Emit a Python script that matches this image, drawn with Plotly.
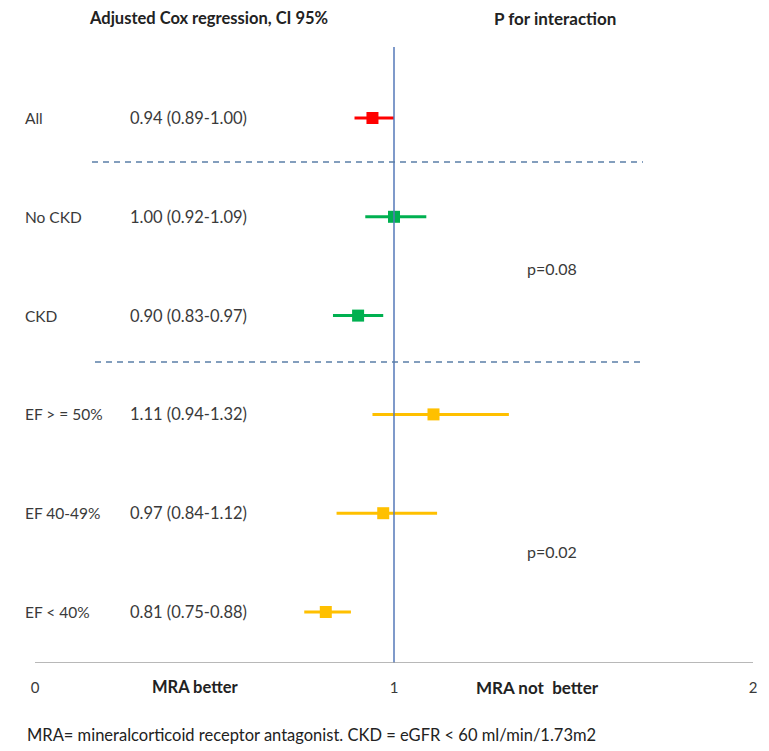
import plotly.graph_objects as go

# ---- data ----
groups = ["All", "No CKD", "CKD", "EF > = 50%", "EF 40-49%", "EF < 40%"]
hr = [0.94, 1.00, 0.90, 1.11, 0.97, 0.81]
ci_low = [0.89, 0.92, 0.83, 0.94, 0.84, 0.75]
ci_high = [1.00, 1.09, 0.97, 1.32, 1.12, 0.88]
colors = ["#ff0000", "#00b050", "#00b050", "#ffc000", "#ffc000", "#ffc000"]
p_labels = ["p=0.08", "p=0.02"]
p_rows = [1.52, 4.39]
x_ticks = [0, 1, 2]
x_tick_text = ["0", "1", "2"]

rows = list(range(len(groups)))
# page has an 8px body margin; figure sized to fit inside the window
W, H = 761, 743
plot_bottom = 655          # figure px of the x axis line
px_per_unit = 359
x0_px = 27
row0_px, row_step = 110, 98.8

TXT = "#3a3a3a"
DARK = "#222222"
FONT = "Lato"

fig = go.Figure()

for i in rows:
    fig.add_trace(go.Scatter(
        x=[hr[i]], y=[i], mode="markers",
        marker=dict(symbol="square", size=12, color=colors[i]),
        error_x=dict(type="data", symmetric=False,
                     array=[ci_high[i] - hr[i]], arrayminus=[hr[i] - ci_low[i]],
                     color=colors[i], thickness=3, width=0),
        showlegend=False, hoverinfo="skip",
    ))

def row_of(px):
    return (px - row0_px) / row_step

ann = []
for i in rows:
    ann.append(dict(x=15 / W, xref="paper", y=i, yref="y", text=groups[i],
                    showarrow=False, xanchor="left", yanchor="middle",
                    font=dict(size=15.5, color=TXT, family=FONT)))
    ann.append(dict(x=120 / W, xref="paper", y=i, yref="y",
                    text=f"{hr[i]:.2f} ({ci_low[i]:.2f}-{ci_high[i]:.2f})",
                    showarrow=False, xanchor="left", yanchor="middle",
                    font=dict(size=16.5, color=TXT, family=FONT)))

for t, r in zip(p_labels, p_rows):
    ann.append(dict(x=544 / W, xref="paper", y=r, yref="y", text=t, showarrow=False,
                    xanchor="center", yanchor="middle",
                    font=dict(size=16, color=TXT, family=FONT)))

# headers
ann.append(dict(x=200.5 / W, xref="paper", y=row_of(10), yref="y",
                text="<b>Adjusted Cox regression, CI 95%</b>", showarrow=False,
                xanchor="center", yanchor="middle",
                font=dict(size=16.5, color=DARK, family=FONT)))
ann.append(dict(x=547 / W, xref="paper", y=row_of(10), yref="y",
                text="<b>P for interaction</b>", showarrow=False,
                xanchor="center", yanchor="middle",
                font=dict(size=17, color=DARK, family=FONT)))

# direction labels
ann.append(dict(x=0.448, xref="x", y=-24 / plot_bottom, yref="paper",
                text="<b>MRA better</b>", showarrow=False, xanchor="center",
                yanchor="middle", font=dict(size=16.5, color=DARK, family=FONT)))
ann.append(dict(x=1.401, xref="x", y=-24 / plot_bottom, yref="paper",
                text="<b>MRA not  better</b>", showarrow=False, xanchor="center",
                yanchor="middle", font=dict(size=17, color=DARK, family=FONT)))

# footnote
ann.append(dict(x=17 / W, xref="paper", y=-72 / plot_bottom, yref="paper",
                text="MRA= mineralcorticoid receptor antagonist. CKD = eGFR < 60 ml/min/1.73m2",
                showarrow=False, xanchor="left", yanchor="middle",
                font=dict(size=16.5, color=DARK, family=FONT)))

y_bottom = row_of(plot_bottom)
y_top = row_of(0)

shapes = [
    # reference line at 1
    dict(type="line", xref="x", yref="y", x0=1, x1=1, y0=row_of(39), y1=y_bottom,
         line=dict(color="#5578b8", width=1.5)),
    # bottom axis line
    dict(type="line", xref="x", yref="y", x0=0, x1=2, y0=y_bottom, y1=y_bottom,
         line=dict(color="#a0a0a0", width=1.5)),
    # dashed separators
    dict(type="line", xref="paper", yref="y", x0=84 / W, x1=635 / W,
         y0=row_of(154), y1=row_of(154),
         line=dict(color="#5b7fa8", width=1.5, dash="6px,5px")),
    dict(type="line", xref="paper", yref="y", x0=87 / W, x1=635 / W,
         y0=row_of(354), y1=row_of(354),
         line=dict(color="#5b7fa8", width=1.5, dash="6px,5px")),
]

x_range = [-x0_px / px_per_unit, (W - x0_px) / px_per_unit]

fig.update_layout(
    width=W, height=H,
    margin=dict(l=0, r=0, t=0, b=H - plot_bottom, pad=0),
    paper_bgcolor="white", plot_bgcolor="white",
    xaxis=dict(range=x_range, tickvals=x_ticks, ticktext=x_tick_text,
               showgrid=False, zeroline=False, showline=False, ticks="",
               ticklabelstandoff=14,
               tickfont=dict(size=15, color=TXT, family=FONT), fixedrange=True),
    yaxis=dict(range=[y_bottom, y_top], showgrid=False, zeroline=False,
               showticklabels=False, showline=False, fixedrange=True),
    annotations=ann, shapes=shapes,
)

fig.write_html("out.html")
